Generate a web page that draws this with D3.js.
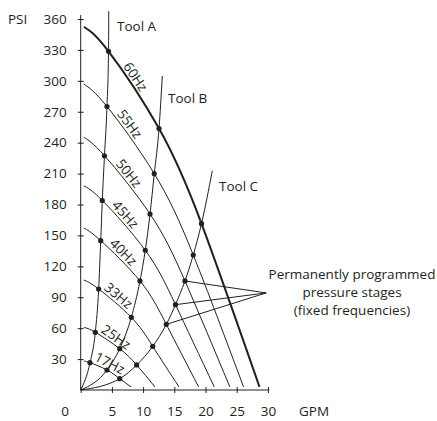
<!DOCTYPE html>
<html>
<head>
<meta charset="utf-8">
<script src="https://cdn.jsdelivr.net/npm/d3@7"></script>
<style>
  html, body { margin: 0; padding: 0; background: #fff; }
  svg { display: block; }
  text { font-family: "Open Sans", Lato, sans-serif; font-weight: 400; fill: #231f20; }
</style>
</head>
<body>
<svg id="chart" width="437" height="421"></svg>
<script>
// Pump curves at fixed frequencies, with three tool (system) curves.
const frequencies = [60, 55, 50, 45, 40, 33, 25, 17];
// Pressure (PSI) where each frequency curve leaves the PSI axis.
const shutoffPsi = [352.5, 296.9, 245.2, 198.0, 157.2, 106.7, 60.8, 28.0];
// Flow (GPM) where each frequency curve meets the GPM axis.
const runoutGpm = [28.65, 26.1, 23.9, 21.4, 18.9, 15.75, 11.9, 8.06];
// Operating points per tool, [GPM, PSI], one per frequency (60 Hz first).
const toolA = [[4.46, 328.6], [4.21, 275.1], [3.81, 227.3], [3.46, 183.9], [3.21, 144.9], [2.88, 98.0], [2.34, 56.0], [1.49, 26.5]];
const toolB = [[12.55, 253.7], [11.79, 209.9], [11.11, 170.8], [10.35, 135.6], [9.50, 105.8], [8.11, 70.5], [6.25, 40.1], [4.21, 19.4]];
const toolC = [[19.36, 161.4], [18.04, 131.0], [16.71, 105.8], [15.19, 82.8], [13.72, 63.7], [11.54, 42.4], [8.97, 24.3], [6.25, 11.0]];
// Upper end of each tool curve, [GPM, PSI].
const toolEnds = [[4.5, 367.5], [13.08, 304.7], [21.09, 212.8]];
const toolNames = ["Tool A", "Tool B", "Tool C"];
// Where each frequency label sits along its curve (GPM).
const labelGpm = [7.8, 6.9, 6.8, 6.3, 6.0, 5.3, 5.0, 4.1];
const gpmTicks = [0, 5, 10, 15, 20, 25, 30];
const psiTicks = [30, 60, 90, 120, 150, 180, 210, 240, 270, 300, 330, 360];
// Programmed pressure stages marked on Tool C (frequencies).
const stageFreqs = [50, 45, 40];
const stageNote = ["Permanently programmed", "pressure stages", "(fixed frequencies)"];
const stageNoteTarget = [29.73, 94.2];

const svg = d3.select("#chart");
const x = d3.scaleLinear().domain([0, 30]).range([80.7, 267.9]);
const y = d3.scaleLinear().domain([0, 360]).range([390, 19]);
const ink = "#231f20";
const fontSize = 13.5;

// Axes
const yAxis = svg.append("g").attr("transform", `translate(${x(0)},0)`)
  .call(d3.axisLeft(y).tickValues(psiTicks).tickSizeInner(3).tickSizeOuter(0).tickPadding(11));
const xAxis = svg.append("g").attr("transform", `translate(0,${y(0)})`)
  .call(d3.axisBottom(x).tickValues(gpmTicks).tickSizeInner(3).tickSizeOuter(0).tickPadding(13));
[yAxis, xAxis].forEach(g => {
  g.select(".domain").remove();
  g.selectAll(".tick line").attr("stroke", ink).attr("stroke-width", 1);
  g.selectAll("text").attr("font-size", fontSize).attr("font-family", null).attr("fill", ink);
});
yAxis.selectAll(".tick line").attr("x1", 3);
xAxis.selectAll(".tick line").attr("y1", -3);
xAxis.selectAll(".tick").filter(d => d === 0).select("text").attr("dx", -16);

svg.append("line").attr("x1", x(0)).attr("x2", x(0)).attr("y1", y(0)).attr("y2", y(360) - 4)
  .attr("stroke", ink).attr("stroke-width", 1);
svg.append("line").attr("x1", x(0)).attr("x2", x(30) + 1.5).attr("y1", y(0)).attr("y2", y(0))
  .attr("stroke", ink).attr("stroke-width", 1);

svg.append("text").attr("x", 8).attr("y", y(360) + 5).attr("font-size", fontSize).text("PSI");
svg.append("text").attr("x", 314).attr("y", 416).attr("text-anchor", "middle").attr("font-size", fontSize).text("GPM");

const line = d3.line().x(d => x(d[0])).y(d => y(d[1]));

// Frequency curves
const tools = [toolA, toolB, toolC];
const curveG = svg.append("g");
const freqPaths = frequencies.map((f, i) => {
  const pts = [[0.5, shutoffPsi[i]], toolA[i], toolB[i], toolC[i], [runoutGpm[i], 3]];
  return curveG.append("path")
    .attr("d", line.curve(d3.curveNatural)(pts))
    .attr("fill", "none").attr("stroke", ink)
    .attr("stroke-width", f === 60 ? 2 : 1);
});

// Tool curves from the origin through each operating point
tools.forEach((pts, t) => {
  const seq = [[0, 0]].concat(pts.slice().reverse(), [toolEnds[t]]);
  svg.append("path")
    .attr("d", line.curve(d3.curveMonotoneX)(seq))
    .attr("fill", "none").attr("stroke", ink).attr("stroke-width", 1);
});

// Tool labels
const toolLabelPos = [[117, 31], [168, 103], [219, 191]];
toolNames.forEach((n, t) => {
  svg.append("text").attr("x", toolLabelPos[t][0]).attr("y", toolLabelPos[t][1])
    .attr("font-size", fontSize).text(n);
});

// Stage note with pointers
const stageIdx = stageFreqs.map(f => frequencies.indexOf(f));
stageIdx.forEach(i => {
  svg.append("line")
    .attr("x1", x(toolC[i][0])).attr("y1", y(toolC[i][1]))
    .attr("x2", x(stageNoteTarget[0])).attr("y2", y(stageNoteTarget[1]))
    .attr("stroke", ink).attr("stroke-width", 1);
});
stageNote.forEach((s, k) => {
  svg.append("text").attr("x", 352).attr("y", 279 + k * 18)
    .attr("text-anchor", "middle").attr("font-size", fontSize).text(s);
});

// Operating point dots
tools.forEach(pts => {
  svg.append("g").selectAll("circle").data(pts).join("circle")
    .attr("cx", d => x(d[0])).attr("cy", d => y(d[1])).attr("r", 2.6).attr("fill", ink);
});

// Frequency labels laid along their curves
function pointAtX(node, px) {
  let lo = 0, hi = node.getTotalLength();
  for (let k = 0; k < 40; k++) {
    const mid = (lo + hi) / 2;
    if (node.getPointAtLength(mid).x < px) lo = mid; else hi = mid;
  }
  return lo;
}
frequencies.forEach((f, i) => {
  const node = freqPaths[i].node();
  const len = pointAtX(node, x(labelGpm[i]));
  const p = node.getPointAtLength(len);
  const a = node.getPointAtLength(Math.max(0, len - 3));
  const b = node.getPointAtLength(len + 3);
  const ang = Math.atan2(b.y - a.y, b.x - a.x) * 180 / Math.PI;
  svg.append("text")
    .attr("transform", `translate(${p.x},${p.y}) rotate(${ang})`)
    .attr("y", -2.5).attr("text-anchor", "middle").attr("font-size", fontSize)
    .text(f + "Hz");
});
</script>
</body>
</html>
